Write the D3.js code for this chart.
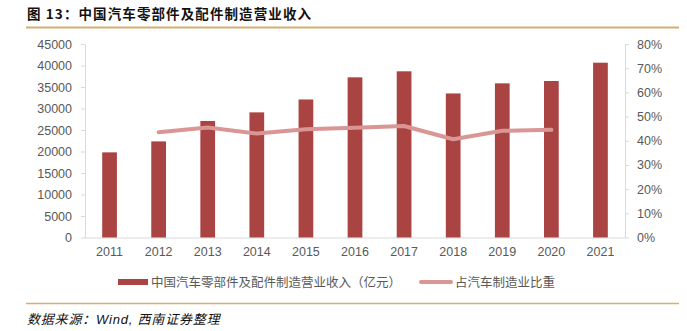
<!DOCTYPE html>
<html>
<head>
<meta charset="utf-8">
<script src="https://cdn.jsdelivr.net/npm/d3@7"></script>
<style>
  html, body { margin: 0; padding: 0; background: #fff; }
  svg { display: block; }
</style>
</head>
<body>
<svg id="chart" width="687" height="331"></svg>
<script>
// 年份与两组数据
const years = ["2011","2012","2013","2014","2015","2016","2017","2018","2019","2020","2021"];
const revenue = [19800, 22350, 27100, 29100, 32100, 37250, 38650, 33500, 35850, 36400, 40650];
const shareYears = ["2012","2013","2014","2015","2016","2017","2018","2019","2020"];
const share = [0.435, 0.455, 0.430, 0.448, 0.454, 0.461, 0.406, 0.441, 0.445];
const leftTicks = [0, 5000, 10000, 15000, 20000, 25000, 30000, 35000, 40000, 45000];
const rightTicks = [0, 0.1, 0.2, 0.3, 0.4, 0.5, 0.6, 0.7, 0.8];

const titleText = "图 13：中国汽车零部件及配件制造营业收入";
const sourceText = "数据来源：Wind, 西南证券整理";
const legendBar = "中国汽车零部件及配件制造营业收入（亿元）";
const legendLine = "占汽车制造业比重";

const barColor = "#a94442";
const lineColor = "#d99694";
const ruleColor = "#d6ad74";
const axisColor = "#d9d9d9";
const textColor = "#595959";
const font = "'Liberation Sans', 'Noto Sans CJK SC', sans-serif";

const svg = d3.select("#chart");
const plotLeft = 85, plotRight = 625, plotTop = 44, plotBottom = 237.5;

const x = d3.scaleBand().domain(years).range([plotLeft, plotRight]).paddingInner(0.7).paddingOuter(0.35);
const yL = d3.scaleLinear().domain([0, 45000]).range([plotBottom, plotTop]);
const yR = d3.scaleLinear().domain([0, 0.8]).range([plotBottom, plotTop]);

// 标题与上下分隔线
svg.append("text")
  .attr("x", 27).attr("y", 19)
  .attr("font-family", "'Noto Sans CJK SC', sans-serif")
  .attr("font-weight", "bold").attr("font-size", 13.5)
  .attr("fill", "#111").attr("letter-spacing", 1.1)
  .text(titleText);
svg.append("line").attr("x1", 26).attr("x2", 679).attr("y1", 27.5).attr("y2", 27.5)
  .attr("stroke", ruleColor).attr("stroke-width", 2);
svg.append("line").attr("x1", 26).attr("x2", 679).attr("y1", 303.5).attr("y2", 303.5)
  .attr("stroke", ruleColor).attr("stroke-width", 1.5);
svg.append("text")
  .attr("x", 27).attr("y", 324)
  .attr("font-family", font).attr("font-style", "italic").attr("font-size", 13)
  .attr("fill", "#111").attr("letter-spacing", 0.8)
  .text(sourceText);

// 坐标轴
function styleAxis(g) {
  g.selectAll(".domain").attr("stroke", axisColor);
  g.selectAll(".tick line").attr("stroke", axisColor);
  g.selectAll(".tick text").attr("fill", textColor).attr("font-family", font).attr("font-size", 12.5);
}

svg.append("g").attr("transform", `translate(${plotLeft},0)`)
  .call(d3.axisLeft(yL).tickValues(leftTicks).tickSize(4).tickSizeOuter(0).tickPadding(9).tickFormat(d3.format("d")))
  .call(styleAxis);

svg.append("g").attr("transform", `translate(${plotRight},0)`)
  .call(d3.axisRight(yR).tickValues(rightTicks).tickSize(4).tickSizeOuter(0).tickPadding(8).tickFormat(d3.format(".0%")))
  .call(styleAxis);

const xAxis = svg.append("g").attr("transform", `translate(0,${plotBottom})`)
  .call(d3.axisBottom(x).tickSize(0).tickPadding(10))
  .call(styleAxis);
xAxis.select(".domain").attr("d", `M${plotLeft},0.5H${plotRight}`);

// 柱形
svg.append("g").selectAll("rect").data(years).join("rect")
  .attr("x", d => x(d))
  .attr("width", x.bandwidth())
  .attr("y", (d, i) => yL(revenue[i]))
  .attr("height", (d, i) => plotBottom - yL(revenue[i]))
  .attr("fill", barColor);

// 占比折线
const line = d3.line()
  .x((d, i) => x(shareYears[i]) + x.bandwidth() / 2)
  .y(d => yR(d));
svg.append("path").datum(share)
  .attr("d", line)
  .attr("fill", "none")
  .attr("stroke", lineColor)
  .attr("stroke-width", 4)
  .attr("stroke-linecap", "round")
  .attr("stroke-linejoin", "round");

// 图例
const ly = 282;
svg.append("rect").attr("x", 118).attr("y", ly - 3).attr("width", 30).attr("height", 6).attr("fill", barColor);
svg.append("text").attr("x", 151).attr("y", ly + 4.5)
  .attr("font-family", font).attr("font-size", 12.5).attr("fill", textColor)
  .text(legendBar);
svg.append("line").attr("x1", 421).attr("x2", 451).attr("y1", ly).attr("y2", ly)
  .attr("stroke", lineColor).attr("stroke-width", 4).attr("stroke-linecap", "round");
svg.append("text").attr("x", 455).attr("y", ly + 4.5)
  .attr("font-family", font).attr("font-size", 12.5).attr("fill", textColor)
  .text(legendLine);
</script>
</body>
</html>
